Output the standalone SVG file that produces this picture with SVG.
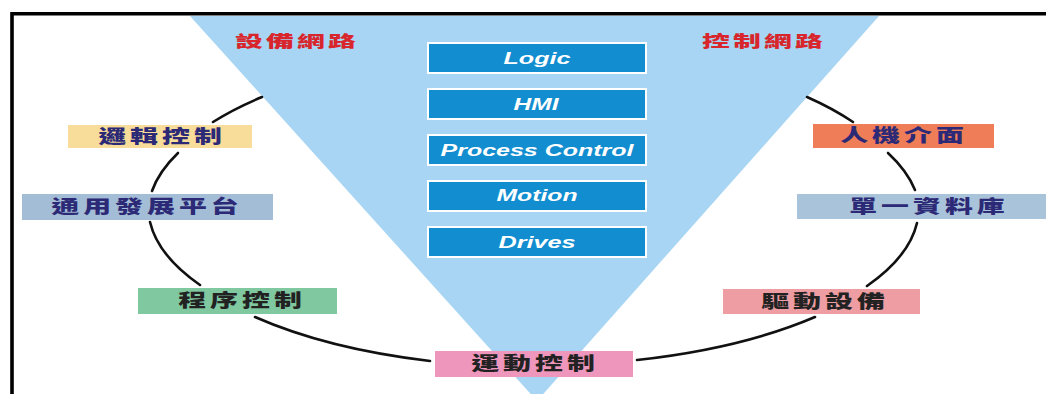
<svg xmlns="http://www.w3.org/2000/svg" width="1046" height="394" viewBox="0 0 1046 394">
<style>
.bg{fill:#ffffff}
.frame{fill:none;stroke:#000;stroke-width:3.6}
.funnel{fill:#a7d5f3}
.net{font-family:"Noto Sans CJK TC","Liberation Sans",sans-serif;font-size:16px;font-weight:900;fill:#d8262c;letter-spacing:1.8px}
.layer rect{fill:#128dd0;stroke:#ffffff;stroke-width:2}
.layer text{font-family:"Liberation Sans",Arial,sans-serif;font-size:16px;font-weight:700;font-style:italic;fill:#ffffff}
.lbl{font-family:"Noto Sans CJK TC","Liberation Sans",sans-serif;font-size:18px;font-weight:900;letter-spacing:2.6px}
.navy{fill:#2c2a76}
.dark{fill:#222222}
.conn path{fill:none;stroke:#111;stroke-width:2.6;stroke-linecap:round}
</style>
<rect class="bg" x="0" y="0" width="1046" height="394"/>
<polygon class="funnel" points="190,16 879,16 537,401"/>
<path class="frame" d="M12 394 V13.8 H1046"/>

<g id="net-equipment"><text class="net" transform="translate(297,46.5) scale(1.74 1)" text-anchor="middle">設備網路</text></g>
<g id="net-control"><text class="net" transform="translate(764,46.5) scale(1.74 1)" text-anchor="middle">控制網路</text></g>

<g id="layer-logic" class="layer"><rect x="428" y="43" width="218" height="30"/><text x="537" y="63.5" text-anchor="middle" textLength="67" lengthAdjust="spacingAndGlyphs">Logic</text></g>
<g id="layer-hmi" class="layer"><rect x="428" y="89" width="218" height="30"/><text x="536" y="109.5" text-anchor="middle" textLength="45" lengthAdjust="spacingAndGlyphs">HMI</text></g>
<g id="layer-process" class="layer"><rect x="428" y="135" width="218" height="30"/><text x="537" y="155.5" text-anchor="middle" textLength="193" lengthAdjust="spacingAndGlyphs">Process Control</text></g>
<g id="layer-motion" class="layer"><rect x="428" y="181" width="218" height="30"/><text x="537" y="200.5" text-anchor="middle" textLength="81" lengthAdjust="spacingAndGlyphs">Motion</text></g>
<g id="layer-drives" class="layer"><rect x="428" y="227" width="218" height="30"/><text x="537" y="247.5" text-anchor="middle" textLength="77" lengthAdjust="spacingAndGlyphs">Drives</text></g>

<g id="conn" class="conn">
<path d="M262 97 A384 155 0 0 0 213 122"/>
<path d="M178 153 A384 155 0 0 0 152 191"/>
<path d="M150 222 A384 155 0 0 0 200 285"/>
<path d="M255 317 A384 155 0 0 0 430 361"/>
<path d="M637 360 A384 155 0 0 0 815 317"/>
<path d="M867 286 A384 155 0 0 0 917 223"/>
<path d="M915 190 A384 155 0 0 0 888 153"/>
<path d="M853 122 A384 155 0 0 0 807 97"/>
</g>

<g id="logic-control"><rect x="68" y="125" width="184" height="23" fill="#f8dd9a"/><text class="lbl navy" transform="translate(162,143) scale(1.55 1)" text-anchor="middle">邏輯控制</text></g>
<g id="dev-platform"><rect x="22" y="194" width="251" height="26" fill="#a3bdd7"/><text class="lbl navy" transform="translate(147,213) scale(1.55 1)" text-anchor="middle">通用發展平台</text></g>
<g id="process-control"><rect x="138" y="288" width="199" height="26" fill="#7fc8a0"/><text class="lbl dark" transform="translate(242,307) scale(1.55 1)" text-anchor="middle">程序控制</text></g>
<g id="motion-control"><rect x="435" y="351" width="198" height="26" fill="#ef96bd"/><text class="lbl dark" transform="translate(535,370) scale(1.55 1)" text-anchor="middle">運動控制</text></g>
<g id="hmi"><rect x="813" y="124" width="181" height="24" fill="#ee7d58"/><text class="lbl navy" transform="translate(904,142) scale(1.55 1)" text-anchor="middle">人機介面</text></g>
<g id="database"><rect x="797" y="194" width="249" height="25" fill="#a9c3da"/><text class="lbl navy" transform="translate(929,212.5) scale(1.55 1)" text-anchor="middle">單一資料庫</text></g>
<g id="drives"><rect x="723" y="289" width="197" height="25" fill="#ee9da3"/><text class="lbl dark" transform="translate(825,307.5) scale(1.55 1)" text-anchor="middle">驅動設備</text></g>
</svg>
